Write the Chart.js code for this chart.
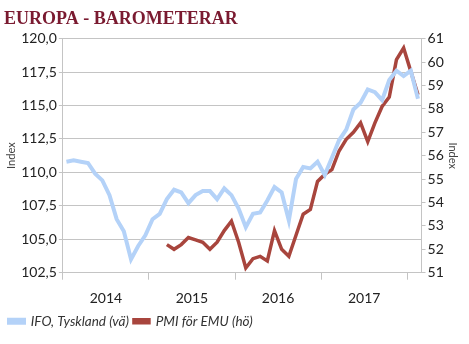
<!DOCTYPE html>
<html>
<head>
<meta charset="utf-8">
<script src="https://cdn.jsdelivr.net/npm/chart.js@4"></script>
<style>
  html, body { margin: 0; padding: 0; background: #fff; }
  #wrap { width: 469px; height: 344px; }
</style>
</head>
<body>
<div id="wrap"><canvas id="chart" width="469" height="344"></canvas></div>
<script>
const yearLabels = ['2014', '2015', '2016', '2017'];

// monthly, Jan 2014 - Feb 2018
const months = [];
['2014', '2015', '2016', '2017', '2018'].forEach(y => {
    for (let m = 1; m <= 12; m++) months.push(y + '-' + String(m).padStart(2, '0'));
});
months.length = 50;

const ifoValues = [
    110.8, 110.9, 110.8, 110.7, 109.9, 109.4, 108.3, 106.5, 105.6, 103.5, 104.5, 105.3,
    106.5, 106.9, 108.0, 108.7, 108.5, 107.7, 108.3, 108.6, 108.6, 108.0, 108.8, 108.3,
    107.3, 105.9, 106.9, 107.0, 107.9, 108.9, 108.5, 106.4, 109.5, 110.4, 110.3, 110.8,
    109.8, 111.1, 112.4, 113.2, 114.7, 115.2, 116.2, 116.0, 115.4, 116.9, 117.6, 117.2,
    117.6, 115.5
];

const pmiValues = [
    null, null, null, null, null, null, null, null, null, null, null, null,
    null, null, 52.2, 52.0, 52.2, 52.5, 52.4, 52.3, 52.0, 52.3, 52.8, 53.2,
    52.3, 51.2, 51.6, 51.7, 51.5, 52.8, 52.0, 51.7, 52.6, 53.5, 53.7, 54.9,
    55.2, 55.4, 56.2, 56.7, 57.0, 57.4, 56.6, 57.4, 58.1, 58.5, 60.1, 60.6,
    59.6, 58.6
];

const gridGray = '#c4c4c4';
const textFont = "Lato, 'Open Sans', sans-serif";

// year boundaries get a tick mark, year middles get the label
const yearBounds = [-0.5, 11.5, 23.5, 35.5, 47.5];
const yearMids = yearLabels.map((_, i) => i * 12 + 5.5);

new Chart(document.getElementById('chart').getContext('2d'), {
    type: 'line',
    data: {
        datasets: [
            {
                label: 'IFO, Tyskland (vä)',
                data: ifoValues.map((v, i) => ({ x: i, y: v })),
                borderColor: '#b4d2f8',
                backgroundColor: '#b4d2f8',
                borderWidth: 4,
                pointRadius: 0,
                tension: 0,
                yAxisID: 'y'
            },
            {
                label: 'PMI för EMU (hö)',
                data: pmiValues.map((v, i) => ({ x: i, y: v })),
                borderColor: '#a8453d',
                backgroundColor: '#a8453d',
                borderWidth: 3.5,
                pointRadius: 0,
                tension: 0,
                spanGaps: false,
                yAxisID: 'y1'
            }
        ]
    },
    options: {
        responsive: false,
        animation: false,
        layout: { padding: { left: 4, right: 10, top: 0, bottom: 6 } },
        plugins: {
            title: {
                display: true,
                text: 'EUROPA - BAROMETERAR',
                align: 'start',
                color: '#7a1a30',
                font: { family: "'Liberation Serif', serif", size: 18, weight: 'bold' },
                padding: { top: 9, bottom: 8 }
            },
            legend: {
                position: 'bottom',
                align: 'start',
                labels: {
                    boxWidth: 15,
                    boxHeight: 3,
                    padding: 5,
                    color: '#333',
                    font: { family: textFont, size: 13.5, style: 'italic' }
                }
            },
            tooltip: { enabled: false }
        },
        scales: {
            x: {
                type: 'linear',
                min: -0.5,
                max: 49.5,
                afterBuildTicks: axis => {
                    axis.ticks = yearBounds.concat(yearMids).sort((a, b) => a - b).map(v => ({ value: v }));
                },
                // let the plot reach closer to the legend
                afterFit: axis => { axis.height -= 7; },
                ticks: {
                    autoSkip: false,
                    maxRotation: 0,
                    color: '#222',
                    font: { family: textFont, size: 14 },
                    padding: 10,
                    callback: v => {
                        const k = yearMids.indexOf(v);
                        return k >= 0 ? yearLabels[k] : '';
                    }
                },
                grid: {
                    drawOnChartArea: false,
                    drawTicks: true,
                    tickLength: 7,
                    color: ctx => (ctx.tick && yearBounds.includes(ctx.tick.value)) ? gridGray : 'rgba(0,0,0,0)'
                },
                border: { display: true, color: gridGray }
            },
            y: {
                position: 'left',
                min: 102.5,
                max: 120,
                ticks: {
                    stepSize: 2.5,
                    color: '#222',
                    font: { family: textFont, size: 14 },
                    padding: 2,
                    callback: v => v.toFixed(1).replace('.', ',')
                },
                grid: { color: gridGray, tickLength: 4 },
                border: { color: gridGray },
                title: {
                    display: true,
                    text: 'Index',
                    color: '#444',
                    font: { family: textFont, size: 11 },
                    padding: 1
                }
            },
            y1: {
                position: 'right',
                min: 51,
                max: 61,
                ticks: {
                    stepSize: 1,
                    color: '#222',
                    font: { family: textFont, size: 14 },
                    padding: 2
                },
                grid: { drawOnChartArea: false, color: gridGray, tickLength: 4 },
                border: { color: gridGray },
                title: {
                    display: true,
                    text: 'Index',
                    color: '#444',
                    font: { family: textFont, size: 11 },
                    padding: 0
                }
            }
        }
    }
});
</script>
</body>
</html>
